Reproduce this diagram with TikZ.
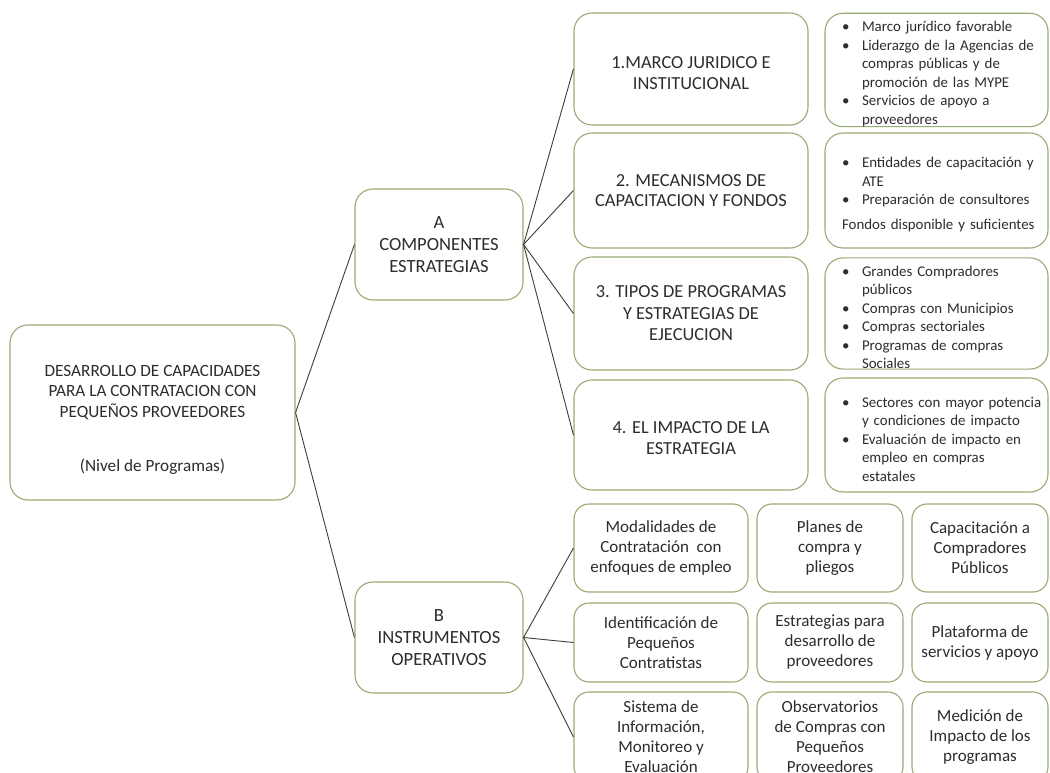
\documentclass[tikz,border=0pt]{standalone}
\usepackage{fontspec}
\setmainfont{Carlito}
\definecolor{boxgreen}{RGB}{150,172,118}
\definecolor{linkgray}{RGB}{60,60,60}
\definecolor{txt}{RGB}{45,45,45}
\newcommand\rootfnt{\fontsize{17.2}{20.5}\selectfont}
\newcommand\branchfnt{\fontsize{18.6}{22}\selectfont}
\newcommand\compfnt{\fontsize{18.4}{20.5}\selectfont}
\newcommand\gridfnt{\fontsize{17}{20}\selectfont}
\newcommand\listfnt{\fontsize{14.9}{18.5}\selectfont}
% one bulleted entry with a hanging indent; lines are broken with \newline
\newcommand\bitem[1]{\par\noindent\hangindent=33pt\hangafter=1%
  \makebox[33pt][l]{\hspace{13pt}\textbullet}#1\par}
\begin{document}
\begin{tikzpicture}[x=1pt,y=-1pt,
  box/.style={draw=boxgreen, line width=1.1pt, rounded corners=18pt, fill=white,
    text=txt, align=center, inner sep=0pt},
  rootbox/.style={box, font=\rootfnt},
  branchbox/.style={box, font=\branchfnt, minimum width=168pt, minimum height=111pt},
  compbox/.style={box, font=\compfnt, minimum width=234pt},
  listbox/.style={box, font=\listfnt, align=left, text width=215pt, minimum width=223pt},
  gridbox/.style={box, font=\gridfnt, rounded corners=15pt},
  link/.style={draw=linkgray, line width=0.9pt}]
\useasboundingbox (0,0) rectangle (1050,773);
\clip (0,0) rectangle (1050,773);
\fill[white] (0,0) rectangle (1050,773);

% root
\node[rootbox, minimum width=285pt, minimum height=175pt] (root) at (152.5,412.5)
  {\rule{0pt}{26pt}DESARROLLO DE CAPACIDADES\\PARA LA CONTRATACION CON\\PEQUEÑOS PROVEEDORES\\[34pt](Nivel de Programas)};

% branches
\node[branchbox] (A) at (439,244.5) {A\\COMPONENTES\\ESTRATEGIAS};
\node[branchbox] (B) at (439,637.5) {B\\INSTRUMENTOS\\OPERATIVOS};

% strategic components
\node[compbox, minimum height=112pt] (c1) at (691,69)
  {\rule{0pt}{20pt}1.MARCO JURIDICO E\\INSTITUCIONAL};
\node[compbox, minimum height=115pt] (c2) at (691,190.5)
  {2. MECANISMOS DE\\CAPACITACION Y FONDOS};
\node[compbox, minimum height=113pt, font=\fontsize{18.4}{21.5}\selectfont] (c3) at (691,313.5)
  {3. TIPOS DE PROGRAMAS\\Y ESTRATEGIAS DE\\EJECUCION};
\node[compbox, minimum height=110pt] (c4) at (691,435)
  {\rule{0pt}{18pt}4. EL IMPACTO DE LA\\ESTRATEGIA};

% detail lists
\node[listbox, minimum height=110pt] (d1) at (936.5,70)
  {\bitem{Marco jurídico favorable}%
   \bitem{Liderazgo de la Agencias de\newline compras públicas y de\newline promoción de las MYPE}%
   \bitem{Servicios de apoyo a\newline proveedores}};
\node[listbox, minimum height=115pt] (d2) at (936.5,190.5)
  {\bitem{Entidades de capacitación y\newline ATE}%
   \bitem{Preparación de consultores}%
   \vspace{6pt}\noindent\hspace{13pt}Fondos disponible y suficientes};
\node[listbox, minimum height=109pt] (d3) at (936.5,313.5)
  {\bitem{Grandes Compradores\newline públicos}%
   \bitem{Compras con Municipios}%
   \bitem{Compras sectoriales}%
   \bitem{Programas de compras\newline Sociales}};
\node[listbox, minimum height=114pt] (d4) at (936.5,435)
  {\bitem{Sectores con mayor potencia\newline y condiciones de impacto}%
   \bitem{Evaluación de impacto en\newline empleo en compras\newline estatales}};

% operative instruments
\node[gridbox, minimum width=174pt, minimum height=88pt] (g11) at (661,548)
  {Modalidades de\\Contratación\ \ con\\enfoques de empleo};
\node[gridbox, minimum width=146pt, minimum height=88pt] (g12) at (830,548)
  {Planes de\\compra y\\pliegos};
\node[gridbox, minimum width=136pt, minimum height=88pt] (g13) at (980,548)
  {Capacitación a\\Compradores\\Públicos};
\node[gridbox, minimum width=174pt, minimum height=79pt] (g21) at (661,642.5)
  {Identificación de\\Pequeños\\Contratistas};
\node[gridbox, minimum width=146pt, minimum height=79pt] (g22) at (830,642.5)
  {Estrategias para\\desarrollo de\\proveedores};
\node[gridbox, minimum width=136pt, minimum height=79pt] (g23) at (980,642.5)
  {Plataforma de\\servicios y apoyo};
\node[gridbox, minimum width=174pt, minimum height=90pt] (g31) at (661,737)
  {Sistema de\\Información,\\Monitoreo y\\Evaluación};
\node[gridbox, minimum width=146pt, minimum height=90pt] (g32) at (830,737)
  {Observatorios\\de Compras con\\Pequeños\\Proveedores};
\node[gridbox, minimum width=136pt, minimum height=90pt] (g33) at (980,737)
  {Medición de\\Impacto de los\\programas};

% connectors
\path[link] (root.east) -- (A.west);
\path[link] (root.east) -- (B.west);
\foreach \c in {c1,c2,c3,c4} \path[link] (A.east) -- (\c.west);
\foreach \g in {g11,g21,g31} \path[link] (B.east) -- (\g.west);
\end{tikzpicture}
\end{document}
